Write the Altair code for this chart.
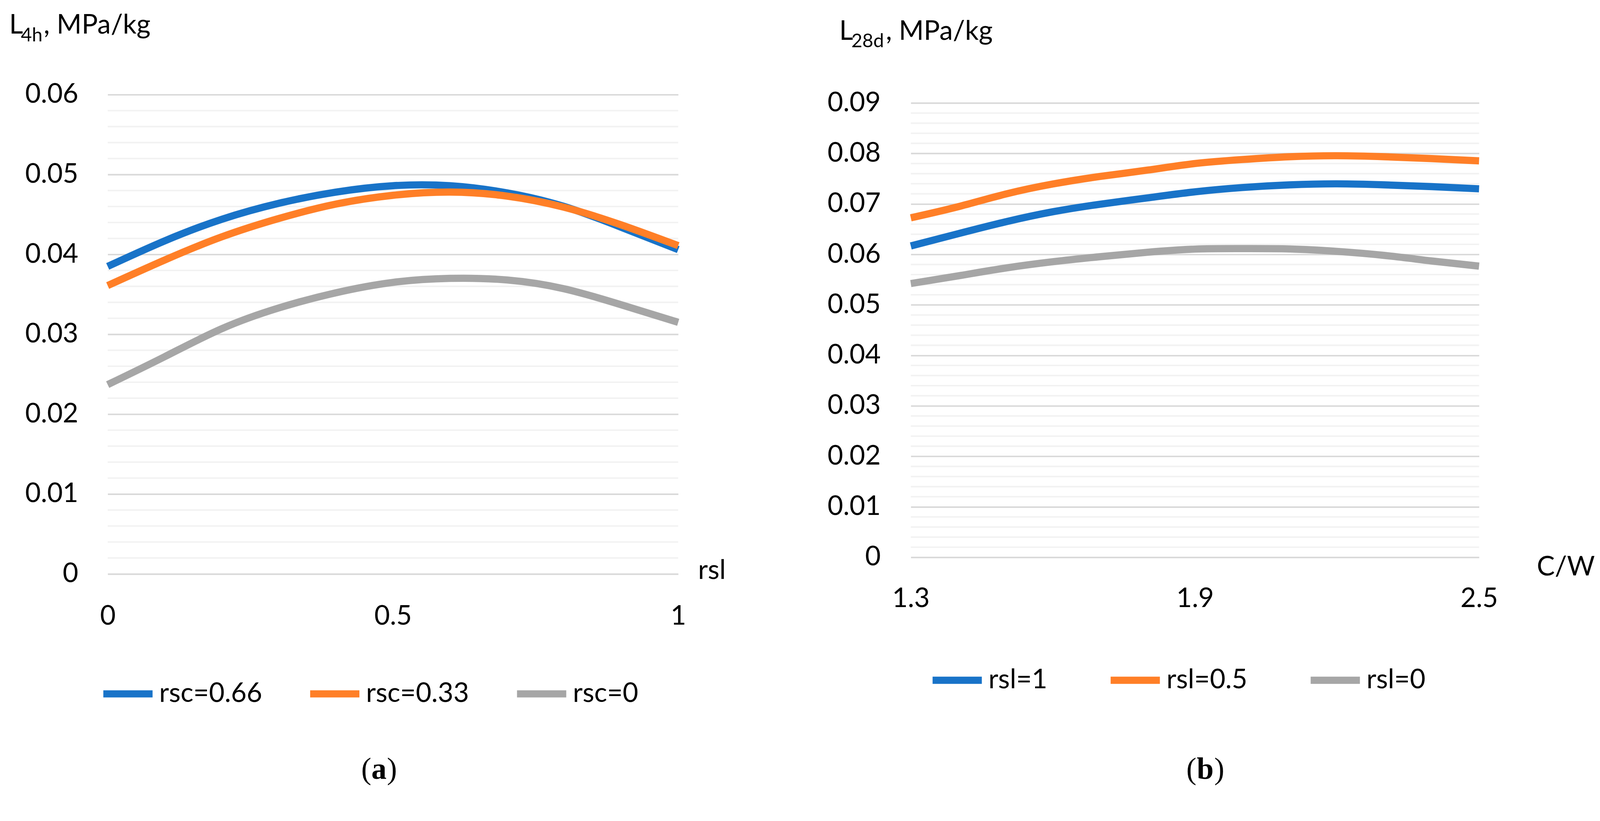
import altair as alt
import pandas as pd

FONT = "Lato"
SERIF = "Liberation Serif"

# ---------------- Panel (a) data ----------------
rsl = [0.0, 0.1, 0.2, 0.3, 0.4, 0.5, 0.6, 0.7, 0.8, 0.9, 1.0]
l4h_rsc066 = [0.0385, 0.0417, 0.0444, 0.0464, 0.0478, 0.0486, 0.0486, 0.0477, 0.0460, 0.0434, 0.0406]
l4h_rsc033 = [0.0361, 0.0393, 0.0422, 0.0445, 0.0463, 0.0474, 0.0478, 0.0473, 0.0459, 0.0437, 0.0411]
l4h_rsc0 = [0.0237, 0.0272, 0.0307, 0.0333, 0.0352, 0.0365, 0.0370, 0.0368, 0.0357, 0.0337, 0.0315]
names_a = ["rsc=0.66", "rsc=0.33", "rsc=0"]
ticks_ya = [0, 0.01, 0.02, 0.03, 0.04, 0.05, 0.06]
minor_ya = [round(i * 0.002, 3) for i in range(31) if i % 5 != 0]
ticks_xa = [0, 0.5, 1]

# ---------------- Panel (b) data ----------------
cw = [1.3, 1.4, 1.5, 1.6, 1.7, 1.8, 1.9, 2.0, 2.1, 2.2, 2.3, 2.4, 2.5]
l28_rsl1 = [0.06168, 0.0641, 0.06645, 0.06845, 0.06995, 0.0712, 0.0724, 0.07325, 0.07378, 0.07398, 0.07378, 0.07343, 0.0730]
l28_rsl05 = [0.06725, 0.06945, 0.07195, 0.07395, 0.07545, 0.0767, 0.0780, 0.0788, 0.07935, 0.07955, 0.07935, 0.07898, 0.07853]
l28_rsl0 = [0.05423, 0.05575, 0.0573, 0.05855, 0.05955, 0.06043, 0.06105, 0.06115, 0.06108, 0.0606, 0.0598, 0.0587, 0.05768]
names_b = ["rsl=1", "rsl=0.5", "rsl=0"]
ticks_yb = [0, 0.01, 0.02, 0.03, 0.04, 0.05, 0.06, 0.07, 0.08, 0.09]
minor_yb = [round(i * 0.002, 3) for i in range(46) if i % 5 != 0]
ticks_xb = [1.3, 1.9, 2.5]

COLORS = ["#1873C8", "#FF7F27", "#A6A6A6"]
MAJOR = "#D9D9D9"
MINOR = "#F2F2F2"

W_A, H_A = 1506, 1266
W_B, H_B = 1500, 1222
YMAX_B = 0.09165

dummy = pd.DataFrame({"d": [0]})


def txt(s, x, y, size, weight="normal", font=FONT, align="left"):
    return alt.Chart(dummy).mark_text(
        align=align, baseline="alphabetic", font=font, fontSize=size,
        fontWeight=weight, color="black"
    ).encode(x=alt.value(x), y=alt.value(y), text=alt.value(s))


def panel(xs, series, names, xfield, ticks_x, ticks_y, minor_y, ydom, xdom,
          legend_x, legend_y, col_pad, xtitle, xtitle_x, xtitle_y, xlab_pad, ylab_pad):
    rows = []
    for name, vals in zip(names, series):
        for xv, yv in zip(xs, vals):
            rows.append({xfield: xv, "L": yv, "series": name})
    df = pd.DataFrame(rows)
    yscale = alt.Scale(domain=ydom, nice=False, zero=False)
    xscale = alt.Scale(domain=xdom, nice=False, zero=False)
    yaxis = alt.Axis(values=ticks_y, format="~g", grid=True, gridColor=MAJOR,
                     gridWidth=4, domain=False, ticks=False, labelPadding=ylab_pad,
                     title=None)

    minor = alt.Chart(pd.DataFrame({"L": minor_y})).mark_rule(
        color=MINOR, strokeWidth=4
    ).encode(y=alt.Y("L:Q", scale=yscale, axis=yaxis))

    lines = alt.Chart(df).mark_line(strokeWidth=19, interpolate="natural").encode(
        x=alt.X(f"{xfield}:Q", scale=xscale,
                axis=alt.Axis(values=ticks_x, format="~g", grid=False, domain=False,
                              ticks=False, labelPadding=xlab_pad, labelFlush=False,
                              labelOverlap=False, labelBaseline="middle",
                              title=xtitle, titleX=xtitle_x, titleY=xtitle_y,
                              titleAlign="left", titleBaseline="alphabetic",
                              titleAnchor="start", titleFontWeight="normal")),
        y=alt.Y("L:Q", scale=yscale, axis=yaxis),
        color=alt.Color("series:N",
                        scale=alt.Scale(domain=names, range=COLORS),
                        legend=alt.Legend(orient="none", legendX=legend_x, legendY=legend_y,
                                          direction="horizontal", title=None,
                                          symbolType="stroke", symbolStrokeWidth=19,
                                          symbolSize=16900, labelFont=FONT,
                                          labelFontSize=71, labelOffset=8,
                                          columnPadding=col_pad, padding=0,
                                          labelLimit=1000, labelColor="black")),
    )
    return minor, lines


minor_a, lines_a = panel(rsl, [l4h_rsc066, l4h_rsc033, l4h_rsc0], names_a, "rsl",
                         ticks_xa, ticks_ya, minor_ya, [0, 0.06], [0, 1],
                         -21, 1508, 88, "rsl", 1558, 13, 112, 78)
minor_b, lines_b = panel(cw, [l28_rsl1, l28_rsl05, l28_rsl0], names_b, "cw",
                         ticks_xb, ticks_yb, minor_yb, [0, YMAX_B], [1.3, 2.5],
                         48, 1472, 128, "C/W", 1652, 47, 110, 80)

# invisible corner anchor so the page placement is deterministic
corner = alt.Chart(dummy).mark_point(size=4, opacity=0, filled=True).encode(
    x=alt.value(-300), y=alt.value(-300)
)

left = alt.layer(
    minor_a, lines_a, corner,
    txt("L", -260, -161, 71),
    txt("4h", -229, -141, 50),
    txt(", MPa/kg", -169, -161, 71),
    txt("(", 696, 1807, 80, font=SERIF, align="right"),
    txt("a", 716, 1807, 80, weight="bold", font=SERIF, align="center"),
    txt(")", 737, 1807, 80, font=SERIF, align="left"),
).properties(width=W_A, height=H_A)

right = alt.layer(
    minor_b, lines_b,
    txt("L", -189, -145, 71),
    txt("28d", -157, -125, 50),
    txt(", MPa/kg", -66, -145, 71),
    txt("(", 754, 1807, 80, font=SERIF, align="right"),
    txt("b", 777, 1807, 80, weight="bold", font=SERIF, align="center"),
    txt(")", 801, 1807, 80, font=SERIF, align="left"),
).properties(width=W_B, height=H_B)

chart = alt.hconcat(left, right, spacing=614, bounds="flush").resolve_scale(
    color="independent", x="independent", y="independent"
).resolve_legend(color="independent").properties(
    padding={"left": -25, "top": -91, "right": 5, "bottom": 5},
    background="white",
).configure_view(stroke=None).configure_axis(
    labelFont=FONT, labelFontSize=71, labelColor="black",
    titleFont=FONT, titleFontSize=71, titleColor="black"
)

chart.save("out.html", embed_options={"renderer": "svg", "actions": False})
